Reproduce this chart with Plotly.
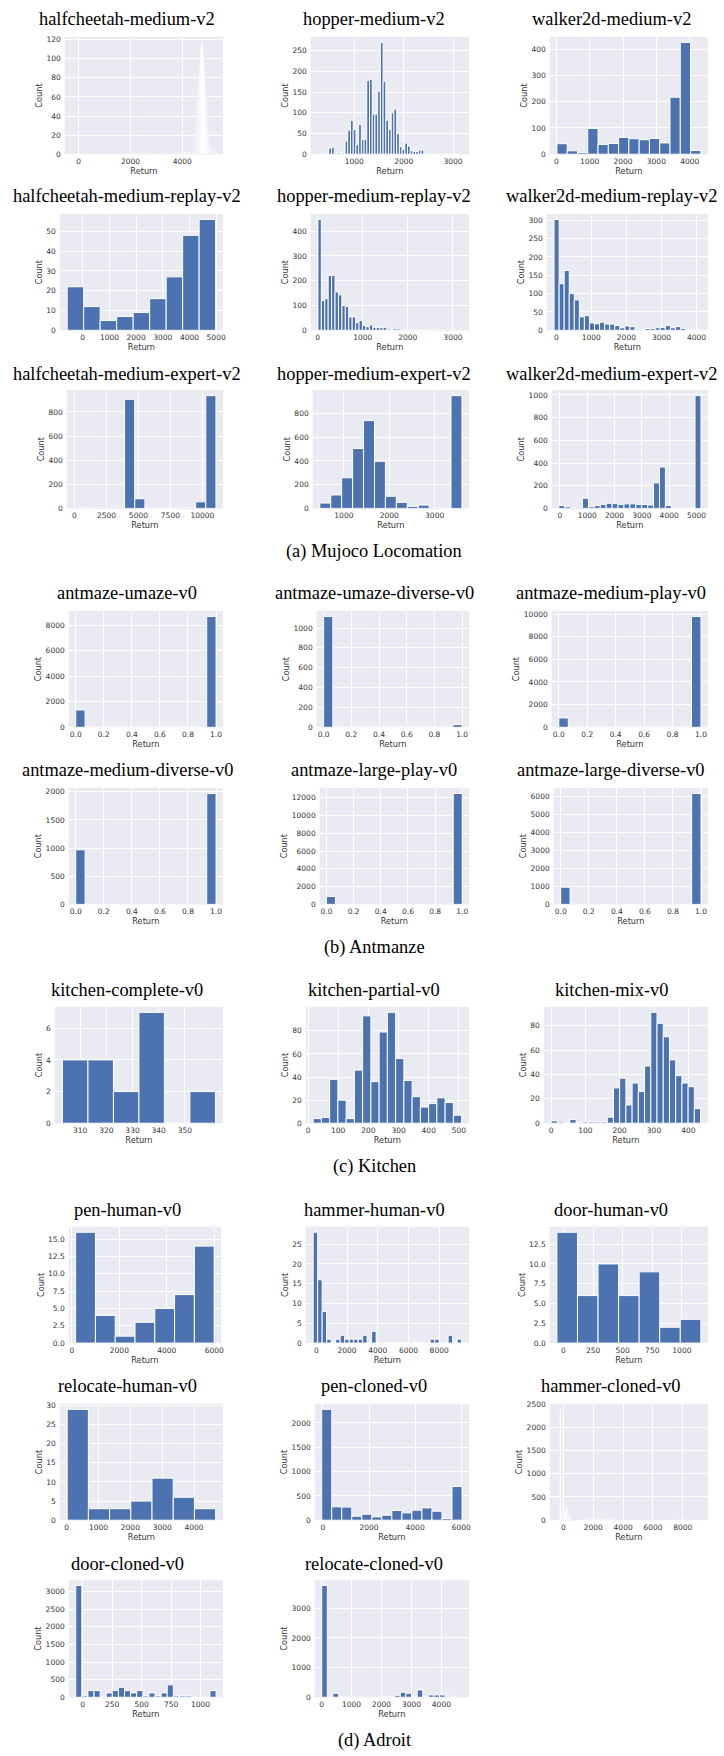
import plotly.graph_objects as go

W, H = 724, 1756

# ======================= DATA =======================
# ---- (a) Mujoco Locomotion ----
hc_med_start, hc_med_width, hc_med_nbins = -262, 39.73, 140
hc_med_bins = [0, 10, 39, 59, 64, 74, 84, 87, 106, 109,
               112, 113, 114, 115, 116, 117, 118, 119, 120, 121, 122, 123, 124, 125,
               126, 127, 128, 129, 130, 131, 132, 133, 134, 135, 136, 137, 138, 139]
hc_med_counts = [1, 1, 1, 1, 1, 2, 1, 2, 1, 1,
                 1, 1, 2, 2, 3, 5, 8, 14, 22, 35, 50, 68, 90, 108,
                 117, 104, 88, 66, 47, 30, 18, 10, 6, 4, 3, 2, 3, 2]

hop_med_start, hop_med_width = 263, 55
hop_med_counts = [1, 0, 0, 2, 15, 17, 3, 3, 0, 3, 32, 58, 82, 60, 23, 72, 35, 36,
                  178, 181, 97, 97, 152, 270, 176, 82, 60, 100, 109, 50, 18, 12, 27, 20,
                  9, 7, 7, 10, 10, 2, 1, 1, 2, 1, 1, 0, 1, 0, 0, 1, 0, 0, 1]

wal_med_start, wal_med_width = 19, 308.2
wal_med_counts = [40, 13, 6, 98, 37, 41, 64, 59, 55, 60, 43, 217, 425, 14]

hc_rep_start, hc_rep_width = -584, 618.4
hc_rep_counts = [22, 12, 5, 7, 9, 16, 27, 48, 56]

hop_rep_start, hop_rep_width = 6, 76
hop_rep_counts = [447, 120, 128, 221, 222, 155, 143, 100, 96, 54, 54, 31, 40, 19, 15, 22,
                  12, 12, 11, 12, 5, 3, 7, 6, 2, 1, 2, 1, 2, 1, 1, 1, 2, 3, 1, 1, 3, 1,
                  2, 1, 1, 1]

wal_rep_start, wal_rep_width = -64, 144.3
wal_rep_counts = [302, 127, 163, 100, 83, 37, 40, 20, 18, 22, 17, 17, 13, 7, 12, 10, 0,
                  2, 5, 5, 7, 8, 13, 7, 10, 5, 0, 2, 1]

hc_exp_start, hc_exp_width = -51, 794
hc_exp_counts = [3, 2, 4, 3, 5, 905, 80, 1, 1, 2, 3, 8, 55, 935]

hop_exp_start, hop_exp_width = 469, 241
hop_exp_counts = [45, 113, 258, 505, 740, 397, 102, 51, 17, 28, 4, 0, 950]

wal_exp_start, wal_exp_width = -43, 217
wal_exp_counts = [25, 15, 8, 10, 90, 15, 25, 35, 45, 42, 35, 40, 40, 35, 35, 30, 225,
                  365, 25, 0, 0, 0, 0, 994]

# ---- (b) Antmaze ----
ant_start, ant_width = 0.0, 1 / 15
ant_umaze_counts = [1360, 0, 0, 0, 0, 0, 0, 0, 0, 0, 0, 0, 0, 0, 8706]
ant_umaze_div_counts = [1117, 0, 0, 0, 0, 0, 0, 0, 0, 0, 0, 0, 0, 0, 27]
ant_med_play_counts = [824, 0, 0, 0, 0, 0, 0, 0, 0, 0, 0, 0, 0, 0, 9794]
ant_med_div_counts = [970, 0, 0, 0, 0, 0, 0, 0, 0, 0, 0, 0, 0, 0, 1970]
ant_large_play_counts = [880, 0, 0, 0, 0, 0, 0, 0, 0, 0, 0, 0, 0, 0, 12480]
ant_large_div_counts = [960, 0, 0, 0, 0, 0, 0, 0, 0, 0, 0, 0, 0, 0, 6180]

# ---- (c) Kitchen ----
kit_comp_start, kit_comp_width = 303.2, 9.75
kit_comp_counts = [4, 4, 2, 7, 0, 2]
kit_part_start, kit_part_width = 17, 27.33
kit_part_counts = [4, 5, 38, 20, 4, 46, 93, 36, 79, 96, 56, 37, 23, 14, 17, 22, 18, 7]
kit_mix_start, kit_mix_width = 0.4, 18.14
kit_mix_counts = [2, 1, 0, 3, 0, 1, 1, 1, 1, 5, 29, 37, 15, 33, 26, 47, 91, 82, 71, 52,
                  39, 33, 30, 12]

# ---- (d) Adroit ----
pen_h_start, pen_h_width = 156, 834.6
pen_h_counts = [16, 4, 1, 3, 5, 7, 14]
ham_h_start, ham_h_width = -206, 293
ham_h_counts = [28, 16, 8, 1, 0, 1, 2, 1, 1, 1, 1, 2, 0, 3, 0, 0, 0, 0, 0, 0, 0, 0, 0,
                0, 0, 0, 1, 1, 0, 0, 2, 0, 1]
door_h_start, door_h_width = -55, 173.6
door_h_counts = [14, 6, 10, 6, 9, 2, 3]
rel_h_start, rel_h_width = 16, 665.9
rel_h_counts = [29, 3, 3, 5, 11, 6, 3]
pen_c_start, pen_c_width = -55, 435.1
pen_c_counts = [2280, 274, 270, 82, 123, 68, 103, 199, 151, 205, 253, 185, 34, 692]
ham_c_start, ham_c_width, ham_c_nbins = -440, 48.25, 200
ham_c_bins = [0, 4, 5, 6, 7, 8, 9, 10, 11, 12, 13, 14, 15, 16, 17, 18, 19, 20,
              40, 44, 48, 52, 56, 60, 65, 69, 73, 77, 81, 158, 166, 178, 180, 197, 199]
ham_c_counts = [3, 2390, 60, 40, 100, 490, 220, 380, 200, 170, 285, 240, 120, 60, 40, 30,
                25, 20, 30, 45, 25, 40, 35, 30, 40, 25, 40, 35, 30, 25, 15, 30, 35, 35, 5]
door_c_start, door_c_width = -58, 51.7
door_c_counts = [3171, 38, 190, 190, 0, 124, 190, 286, 190, 124, 190, 38, 124, 38, 124,
                 352, 38, 38, 38, 0, 0, 0, 190]
rel_c_start, rel_c_width = 4, 187.4
rel_c_counts = [3771, 0, 136, 0, 0, 15, 15, 15, 15, 15, 0, 0, 30, 70, 170, 136, 30, 249,
                10, 79, 79, 79, 34, 5, 34]

# ---- titles / ticks ----
titles = ["halfcheetah-medium-v2", "hopper-medium-v2", "walker2d-medium-v2",
          "halfcheetah-medium-replay-v2", "hopper-medium-replay-v2", "walker2d-medium-replay-v2",
          "halfcheetah-medium-expert-v2", "hopper-medium-expert-v2", "walker2d-medium-expert-v2",
          "antmaze-umaze-v0", "antmaze-umaze-diverse-v0", "antmaze-medium-play-v0",
          "antmaze-medium-diverse-v0", "antmaze-large-play-v0", "antmaze-large-diverse-v0",
          "kitchen-complete-v0", "kitchen-partial-v0", "kitchen-mix-v0",
          "pen-human-v0", "hammer-human-v0", "door-human-v0",
          "relocate-human-v0", "pen-cloned-v0", "hammer-cloned-v0",
          "door-cloned-v0", "relocate-cloned-v0"]
captions = ["(a) Mujoco Locomation", "(b) Antmanze", "(c) Kitchen", "(d) Adroit"]

ant_xticks = [0.0, 0.2, 0.4, 0.6, 0.8, 1.0]
xticks = [[0, 2000, 4000], [1000, 2000, 3000], [0, 1000, 2000, 3000, 4000],
          [0, 1000, 2000, 3000, 4000, 5000], [0, 1000, 2000, 3000], [0, 1000, 2000, 3000, 4000],
          [0, 2500, 5000, 7500, 10000], [1000, 2000, 3000], [0, 1000, 2000, 3000, 4000, 5000],
          ant_xticks, ant_xticks, ant_xticks, ant_xticks, ant_xticks, ant_xticks,
          [310, 320, 330, 340, 350], [0, 100, 200, 300, 400, 500], [0, 100, 200, 300, 400],
          [0, 2000, 4000, 6000], [0, 2000, 4000, 6000, 8000], [0, 250, 500, 750, 1000],
          [0, 1000, 2000, 3000, 4000], [0, 2000, 4000, 6000], [0, 2000, 4000, 6000, 8000],
          [0, 250, 500, 750, 1000], [0, 1000, 2000, 3000, 4000]]
yticks = [[0, 20, 40, 60, 80, 100, 120], [0, 50, 100, 150, 200, 250], [0, 100, 200, 300, 400],
          [0, 10, 20, 30, 40, 50], [0, 100, 200, 300, 400], [0, 50, 100, 150, 200, 250, 300],
          [0, 200, 400, 600, 800], [0, 200, 400, 600, 800], [0, 200, 400, 600, 800, 1000],
          [0, 2000, 4000, 6000, 8000], [0, 200, 400, 600, 800, 1000],
          [0, 2000, 4000, 6000, 8000, 10000],
          [0, 500, 1000, 1500, 2000], [0, 2000, 4000, 6000, 8000, 10000, 12000],
          [0, 1000, 2000, 3000, 4000, 5000, 6000],
          [0, 2, 4, 6], [0, 20, 40, 60, 80], [0, 20, 40, 60, 80],
          [0, 2.5, 5, 7.5, 10, 12.5, 15], [0, 5, 10, 15, 20, 25], [0, 2.5, 5, 7.5, 10, 12.5],
          [0, 5, 10, 15, 20, 25, 30], [0, 500, 1000, 1500, 2000], [0, 500, 1000, 1500, 2000, 2500],
          [0, 500, 1000, 1500, 2000, 2500, 3000], [0, 1000, 2000, 3000]]

# ======================= BUILD =======================
def dense(start, width, counts):
    n = len(counts)
    return [start + width * (i + 0.5) for i in range(n)], list(counts), start, width, n


def sparse(start, width, nbins, bins, counts):
    return [start + width * (b + 0.5) for b in bins], list(counts), start, width, nbins


hists = [
    sparse(hc_med_start, hc_med_width, hc_med_nbins, hc_med_bins, hc_med_counts),
    dense(hop_med_start, hop_med_width, hop_med_counts),
    dense(wal_med_start, wal_med_width, wal_med_counts),
    dense(hc_rep_start, hc_rep_width, hc_rep_counts),
    dense(hop_rep_start, hop_rep_width, hop_rep_counts),
    dense(wal_rep_start, wal_rep_width, wal_rep_counts),
    dense(hc_exp_start, hc_exp_width, hc_exp_counts),
    dense(hop_exp_start, hop_exp_width, hop_exp_counts),
    dense(wal_exp_start, wal_exp_width, wal_exp_counts),
    dense(ant_start, ant_width, ant_umaze_counts),
    dense(ant_start, ant_width, ant_umaze_div_counts),
    dense(ant_start, ant_width, ant_med_play_counts),
    dense(ant_start, ant_width, ant_med_div_counts),
    dense(ant_start, ant_width, ant_large_play_counts),
    dense(ant_start, ant_width, ant_large_div_counts),
    dense(kit_comp_start, kit_comp_width, kit_comp_counts),
    dense(kit_part_start, kit_part_width, kit_part_counts),
    dense(kit_mix_start, kit_mix_width, kit_mix_counts),
    dense(pen_h_start, pen_h_width, pen_h_counts),
    dense(ham_h_start, ham_h_width, ham_h_counts),
    dense(door_h_start, door_h_width, door_h_counts),
    dense(rel_h_start, rel_h_width, rel_h_counts),
    dense(pen_c_start, pen_c_width, pen_c_counts),
    sparse(ham_c_start, ham_c_width, ham_c_nbins, ham_c_bins, ham_c_counts),
    dense(door_c_start, door_c_width, door_c_counts),
    dense(rel_c_start, rel_c_width, rel_c_counts),
]

# pixel boxes (left, top, right, bottom) of each plotting area
boxes = [
    (65, 33, 224, 151), (312, 33, 471, 151), (552, 33, 711, 151),
    (60, 211, 224, 328), (312, 211, 471, 328), (549, 211, 711, 328),
    (67, 388, 224, 507), (314, 388, 471, 507), (554, 388, 711, 507),
    (69, 610, 224, 727), (318, 610, 471, 727), (554, 610, 711, 727),
    (69, 788, 224, 905), (321, 788, 471, 905), (556, 788, 711, 905),
    (55, 1008, 224, 1125), (307, 1008, 471, 1125), (546, 1008, 711, 1125),
    (69, 1229, 222, 1346), (307, 1229, 471, 1346), (552, 1229, 711, 1346),
    (60, 1407, 224, 1524), (316, 1407, 471, 1524), (552, 1407, 711, 1524),
    (69, 1584, 224, 1702), (316, 1584, 471, 1702),
]
title_cols = [128, 376, 614]
title_rows = [15, 193, 372, 592, 770, 991, 1212, 1389, 1568]
caption_y = [550, 948, 1168, 1745]
caption_x = 376

BAR = "#4C72B0"
BG = "#EAEAF2"
TXT = "#333333"
TICKF = dict(family="DejaVu Sans", size=7.5, color=TXT)
LABF = dict(family="DejaVu Sans", size=8.2, color=TXT)
SERIF = dict(family="Liberation Serif", size=18.4, color="black")


def fmt(v, ticks):
    if any(isinstance(t, float) and not float(t).is_integer() for t in ticks):
        return f"{v:.1f}"
    return f"{int(round(v))}"


fig = go.Figure()
layout = dict(width=W, height=H, margin=dict(l=0, r=0, t=0, b=0),
              paper_bgcolor="white", plot_bgcolor=BG, showlegend=False,
              annotations=[], font=dict(family="DejaVu Sans"), hovermode=False)

for k, ((xs, ys, start, width, n), box) in enumerate(zip(hists, boxes), start=1):
    sfx = "" if k == 1 else str(k)
    fig.add_trace(go.Bar(
        x=xs, y=ys, width=[width] * len(xs),
        xaxis="x" + sfx, yaxis="y" + sfx,
        marker=dict(color=BAR, line=dict(color="white", width=1)),
        hoverinfo="skip", showlegend=False))
    R = n * width
    x0, y0, x1, y1 = box
    xt = xticks[k - 1]
    yt = yticks[k - 1]
    layout["xaxis" + sfx] = dict(
        domain=[x0 / W, x1 / W], anchor="y" + sfx,
        range=[start - 0.05 * R, start + 1.05 * R],
        tickmode="array", tickvals=xt, ticktext=[fmt(v, xt) for v in xt],
        showgrid=True, gridcolor="white", gridwidth=1, zeroline=False,
        showline=False, ticks="", tickfont=TICKF, ticklabelstandoff=1,
        title=dict(text="Return", font=LABF, standoff=2), fixedrange=True)
    layout["yaxis" + sfx] = dict(
        domain=[1 - y1 / H, 1 - y0 / H], anchor="x" + sfx,
        range=[0, 1.05 * max(ys)],
        tickmode="array", tickvals=yt, ticktext=[fmt(v, yt) for v in yt],
        showgrid=True, gridcolor="white", gridwidth=1, zeroline=False,
        showline=False, ticks="", tickfont=TICKF, ticklabelstandoff=3,
        title=dict(text="Count", font=LABF, standoff=2), fixedrange=True)
    r, c = divmod(k - 1, 3)
    layout["annotations"].append(dict(
        text=titles[k - 1], x=title_cols[c] / W, y=1 - title_rows[r] / H,
        xref="paper", yref="paper", showarrow=False, font=SERIF,
        xanchor="center", yanchor="middle"))

for cap, cy in zip(captions, caption_y):
    layout["annotations"].append(dict(
        text=cap, x=caption_x / W, y=1 - cy / H, xref="paper", yref="paper",
        showarrow=False, font=SERIF, xanchor="center", yanchor="middle"))

fig.update_layout(**layout)
fig.write_html("out.html",
               config={"displayModeBar": False, "staticPlot": True},
               post_script="document.body.style.margin='0px';"
                           "document.body.style.overflow='hidden';")
